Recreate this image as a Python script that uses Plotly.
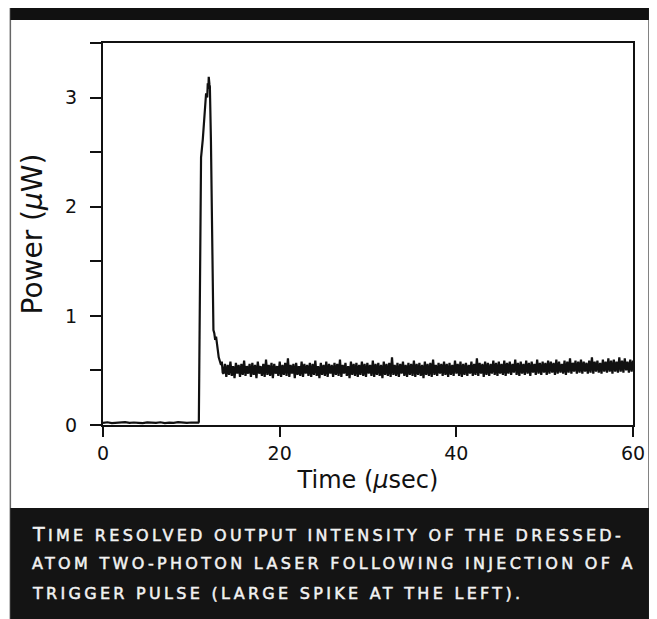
import numpy as np
import plotly.graph_objects as go

# ---------------- data ----------------
base_t = [0, 0.5, 1, 1.5, 2, 2.5, 3, 3.5, 4, 4.5, 5, 5.5, 6, 6.5, 7, 7.5, 8, 8.5, 9, 9.5, 10, 10.5, 10.8]
base_v = [0.02, 0.025, 0.018, 0.022, 0.02, 0.026, 0.019, 0.023, 0.02, 0.017, 0.024, 0.021, 0.02, 0.025,
          0.018, 0.022, 0.02, 0.026, 0.021, 0.019, 0.023, 0.02, 0.022]

pulse_t = [10.85, 10.95, 11.05, 11.1, 11.3, 11.49, 11.67, 11.8, 11.86, 11.93, 11.97, 12.05, 12.1, 12.22,
           12.34, 12.45, 12.5, 12.6, 12.7, 12.8, 12.9, 12.99, 13.1, 13.2, 13.36, 13.45, 13.55]
pulse_v = [0.03, 1.3, 2.3, 2.45, 2.62, 2.81, 3.04, 3.0, 3.13, 3.08, 3.19, 3.12, 3.1, 2.6,
           2.0, 1.3, 0.87, 0.84, 0.78, 0.81, 0.7, 0.69, 0.62, 0.6, 0.55, 0.58, 0.48]

noise_v = [
    0.47, 0.56, 0.44, 0.55, 0.46, 0.58, 0.45, 0.54, 0.43, 0.57, 0.47, 0.55, 0.44, 0.56, 0.46, 0.59, 0.45, 0.54, 0.47, 0.56,
    0.44, 0.57, 0.46, 0.55, 0.43, 0.58, 0.47, 0.54, 0.45, 0.56, 0.44, 0.60, 0.46, 0.55, 0.45, 0.57, 0.43, 0.56, 0.47, 0.54,
    0.45, 0.58, 0.44, 0.55, 0.46, 0.57, 0.45, 0.61, 0.44, 0.55, 0.47, 0.56, 0.43, 0.57, 0.46, 0.54, 0.45, 0.58, 0.44, 0.56,
    0.47, 0.55, 0.45, 0.57, 0.44, 0.56, 0.46, 0.59, 0.45, 0.54, 0.43, 0.57, 0.46, 0.55, 0.45, 0.58, 0.44, 0.56, 0.47, 0.55,
    0.44, 0.57, 0.46, 0.56, 0.45, 0.60, 0.44, 0.55, 0.47, 0.57, 0.45, 0.54, 0.43, 0.58, 0.46, 0.56, 0.45, 0.57, 0.44, 0.55,
    0.46, 0.58, 0.45, 0.56, 0.44, 0.57, 0.47, 0.55, 0.45, 0.59, 0.44, 0.56, 0.46, 0.57, 0.45, 0.55, 0.43, 0.58, 0.46, 0.56,
    0.45, 0.57, 0.44, 0.62, 0.46, 0.55, 0.45, 0.57, 0.44, 0.56, 0.47, 0.58, 0.45, 0.55, 0.44, 0.57, 0.46, 0.56, 0.45, 0.59,
    0.44, 0.56, 0.46, 0.57, 0.45, 0.55, 0.43, 0.58, 0.46, 0.56, 0.45, 0.57, 0.44, 0.60, 0.46, 0.55, 0.45, 0.57, 0.47, 0.56,
    0.45, 0.58, 0.46, 0.56, 0.44, 0.57, 0.46, 0.55, 0.45, 0.59, 0.47, 0.56, 0.45, 0.58, 0.44, 0.56, 0.46, 0.57, 0.45, 0.55,
    0.47, 0.58, 0.45, 0.56, 0.46, 0.61, 0.45, 0.57, 0.47, 0.56, 0.44, 0.58, 0.46, 0.57, 0.45, 0.56, 0.47, 0.59, 0.46, 0.57,
    0.45, 0.58, 0.47, 0.56, 0.46, 0.59, 0.45, 0.57, 0.47, 0.58, 0.46, 0.56, 0.48, 0.60, 0.46, 0.57, 0.45, 0.58, 0.47, 0.56,
    0.46, 0.59, 0.47, 0.57, 0.45, 0.58, 0.48, 0.56, 0.46, 0.60, 0.47, 0.57, 0.46, 0.58, 0.48, 0.57, 0.46, 0.59, 0.47, 0.58,
    0.48, 0.57, 0.46, 0.60, 0.47, 0.58, 0.48, 0.56, 0.47, 0.59, 0.46, 0.58, 0.48, 0.61, 0.47, 0.57, 0.49, 0.59, 0.47, 0.58,
    0.48, 0.60, 0.47, 0.58, 0.49, 0.57, 0.47, 0.59, 0.48, 0.62, 0.47, 0.58, 0.49, 0.59, 0.48, 0.57, 0.47, 0.60, 0.49, 0.58,
    0.48, 0.61, 0.49, 0.59, 0.47, 0.60, 0.49, 0.58, 0.48, 0.62, 0.49, 0.59, 0.48, 0.61, 0.50, 0.58, 0.48, 0.60, 0.49, 0.59,
]
noise_t_start = 13.65
noise_t_end = 60.0

x_ticks = [0, 20, 40, 60]
y_ticks = [0, 0.5, 1, 1.5, 2, 2.5, 3, 3.5]
y_tick_text = ["0", "", "1", "", "2", "", "3", ""]

x_title = "Time (<i>μ</i>sec)"
y_title = "Power (<i>μ</i>W)"
caption_lines = [
    "Time resolved output intensity of the dressed-",
    "atom two-photon laser following injection of a",
    "trigger pulse (large spike at the left).",
]

# ---------------- build ----------------
noise_t = np.linspace(noise_t_start, noise_t_end, len(noise_v))
t_all = list(base_t) + list(pulse_t) + list(noise_t)
v_all = list(base_v) + list(pulse_v) + list(noise_v)

OFF = 8  # page body margin
W_PX, H_PX = 657 - OFF, 619 - OFF
L, R, T, B = 103 - OFF, 635 - OFF, 43 - OFF, 425 - OFF
PW, PH = R - L, B - T


def fx(p):
    return (p - OFF - L) / PW


def fy(p):
    return (B - (p - OFF)) / PH


FONT = "DejaVu Sans"


def small_caps(line, big=19):
    out = []
    for ch in line:
        if ch.isupper():
            out.append('<span style="font-size:%dpx">%s</span>' % (big, ch))
        else:
            out.append(ch.upper())
    return ('<span style="letter-spacing:3.3px;stroke:#f2f2f2;stroke-width:0.5px">'
            + "".join(out) + "</span>")


fig = go.Figure()
fig.add_trace(go.Scatter(x=t_all, y=v_all, mode="lines",
                         line=dict(color="#111111", width=2.2), showlegend=False,
                         hoverinfo="skip"))

shapes = [
    dict(type="rect", xref="paper", yref="paper", x0=fx(10), x1=fx(651), y0=fy(5), y1=fy(619),
         line=dict(color="#666666", width=1.5), fillcolor="rgba(0,0,0,0)", layer="below"),
    dict(type="rect", xref="paper", yref="paper", x0=fx(10), x1=fx(651), y0=fy(5), y1=fy(20),
         line=dict(width=0), fillcolor="#111111", layer="below"),
    dict(type="rect", xref="paper", yref="paper", x0=fx(10), x1=fx(651), y0=fy(508), y1=fy(619),
         line=dict(width=0), fillcolor="#141414", layer="below"),
]

annotations = []
caption_centers = [534, 563, 593]
for line, cy in zip(caption_lines, caption_centers):
    annotations.append(dict(
        xref="paper", yref="paper", x=fx(30), y=fy(cy), xanchor="left", yanchor="middle",
        text=small_caps(line),
        showarrow=False, align="left",
        font=dict(family=FONT, size=16, color="#f2f2f2"),
    ))

fig.update_layout(
    width=W_PX, height=H_PX,
    margin=dict(l=L, r=W_PX - R, t=T, b=H_PX - B),
    paper_bgcolor="white", plot_bgcolor="white",
    font=dict(family=FONT, color="#111111"),
    shapes=shapes, annotations=annotations,
    xaxis=dict(range=[0, 60], tickvals=x_ticks, ticks="outside", ticklen=10, tickwidth=1.5,
               tickcolor="#111111", showline=True, linecolor="#111111", linewidth=2, mirror=True,
               showgrid=False, zeroline=False, tickfont=dict(size=19, family=FONT),
               title=dict(text=x_title, font=dict(size=24, family=FONT), standoff=8)),
    yaxis=dict(range=[0, 3.5], tickvals=y_ticks, ticktext=y_tick_text, ticks="outside", ticklen=11,
               tickwidth=1.5, tickcolor="#111111", showline=True, linecolor="#111111", linewidth=2,
               mirror=True, showgrid=False, zeroline=False, tickfont=dict(size=19, family=FONT),
               ticklabelstandoff=9,
               title=dict(text=y_title, font=dict(size=28, family=FONT), standoff=14)),
)

fig.write_html("out.html")
